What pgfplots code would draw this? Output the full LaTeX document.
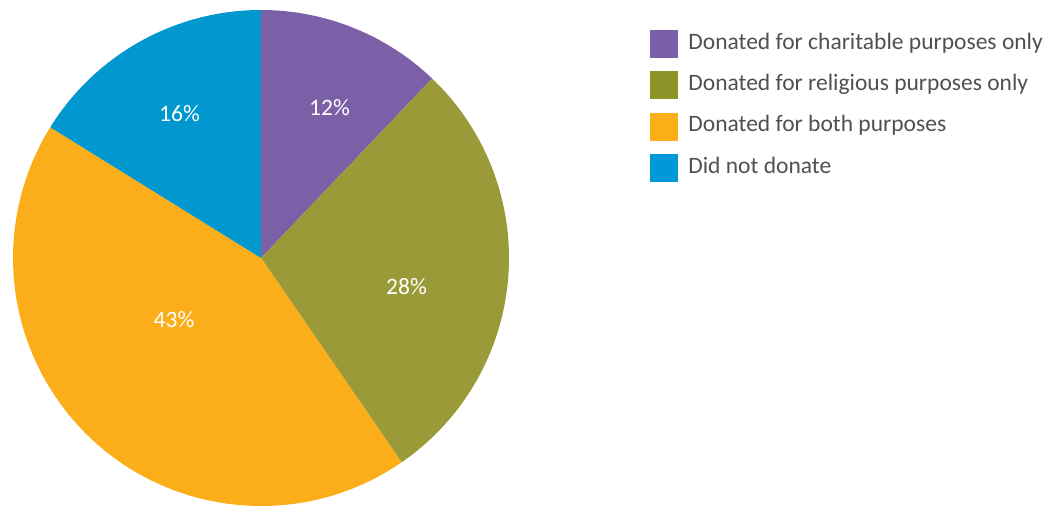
\documentclass[border=0pt]{standalone}
\usepackage{pgfplots}
\pgfplotsset{compat=1.18}
\usepackage{pgfplotstable}
\usepackage{fontspec}
\setmainfont{Carlito}
\definecolor{cPurple}{HTML}{7B60A8}
\definecolor{cOlive}{HTML}{9A9A38}
\definecolor{cOrange}{HTML}{FBAE19}
\definecolor{cBlue}{HTML}{0098CF}
\definecolor{lPurple}{HTML}{7A5FA8}
\definecolor{lOlive}{HTML}{8B9426}
\definecolor{lOrange}{HTML}{FBAE17}
\definecolor{lBlue}{HTML}{0098D8}
\definecolor{txt}{HTML}{505050}

% value, slice colour, label position (px, y measured from bottom)
\pgfplotstableread{
name value color lx ly
charitable 12 cPurple 329.5 398
religious 28 cOlive 406.5 219.5
both 43 cOrange 174 186
none 16 cBlue 179.5 392
}\piedata

\tikzset{pielabel/.style={text=white, inner sep=0pt, font=\fontsize{23.6}{28}\selectfont}}

\begin{document}
\begin{tikzpicture}
\begin{axis}[
  width=1061bp, height=506bp, scale only axis,
  xmin=0, xmax=1061, ymin=0, ymax=506,
  hide axis, clip=false,
  legend style={
    at={(650/1061,476/506)}, anchor=north west,
    draw=none, fill=none, inner sep=0pt, outer sep=0pt,
    row sep=14bp, column sep=11bp,
    font=\fontsize{23.6}{28}\selectfont, text=txt,
    nodes={inner sep=0pt, outer sep=0pt},
    cells={anchor=base west},
  },
]
\coordinate (bbsw) at (rel axis cs:0,0);
\coordinate (bbne) at (rel axis cs:1,1);
% total of the values
\def\pietotal{0}
\pgfplotsforeachungrouped \i in {0,...,3}{%
  \pgfplotstablegetelem{\i}{value}\of\piedata
  \pgfmathsetmacro{\pietotal}{\pietotal+\pgfplotsretval}%
}
\def\startangle{90}
\pgfplotsforeachungrouped \i in {0,...,3}{%
  \pgfplotstablegetelem{\i}{value}\of\piedata \let\v\pgfplotsretval
  \pgfplotstablegetelem{\i}{color}\of\piedata \let\c\pgfplotsretval
  \pgfplotstablegetelem{\i}{lx}\of\piedata \let\lx\pgfplotsretval
  \pgfplotstablegetelem{\i}{ly}\of\piedata \let\ly\pgfplotsretval
  \pgfmathsetmacro{\endangle}{\startangle - \v/\pietotal*360}%
  \edef\temp{\noexpand\fill[\c] (261,248) -- ++(\startangle:248bp)
     arc[start angle=\startangle, end angle=\endangle, radius=248bp] -- cycle;
     \noexpand\node[pielabel] at (\lx,\ly) {\v\noexpand\%};}%
  \temp
  \global\let\startangle\endangle
}
\addlegendimage{legend image code/.code={\fill[lPurple] (0bp,-8bp) rectangle (27bp,19bp);}}
\addlegendentry{Donated for charitable purposes only}
\addlegendimage{legend image code/.code={\fill[lOlive] (0bp,-8bp) rectangle (27bp,19bp);}}
\addlegendentry{Donated for religious purposes only}
\addlegendimage{legend image code/.code={\fill[lOrange] (0bp,-8bp) rectangle (27bp,19bp);}}
\addlegendentry{Donated for both purposes}
\addlegendimage{legend image code/.code={\fill[lBlue] (0bp,-8bp) rectangle (27bp,19bp);}}
\addlegendentry{Did not donate}
\end{axis}
\pgfresetboundingbox
\useasboundingbox (bbsw) rectangle (bbne);
\end{tikzpicture}
\end{document}
